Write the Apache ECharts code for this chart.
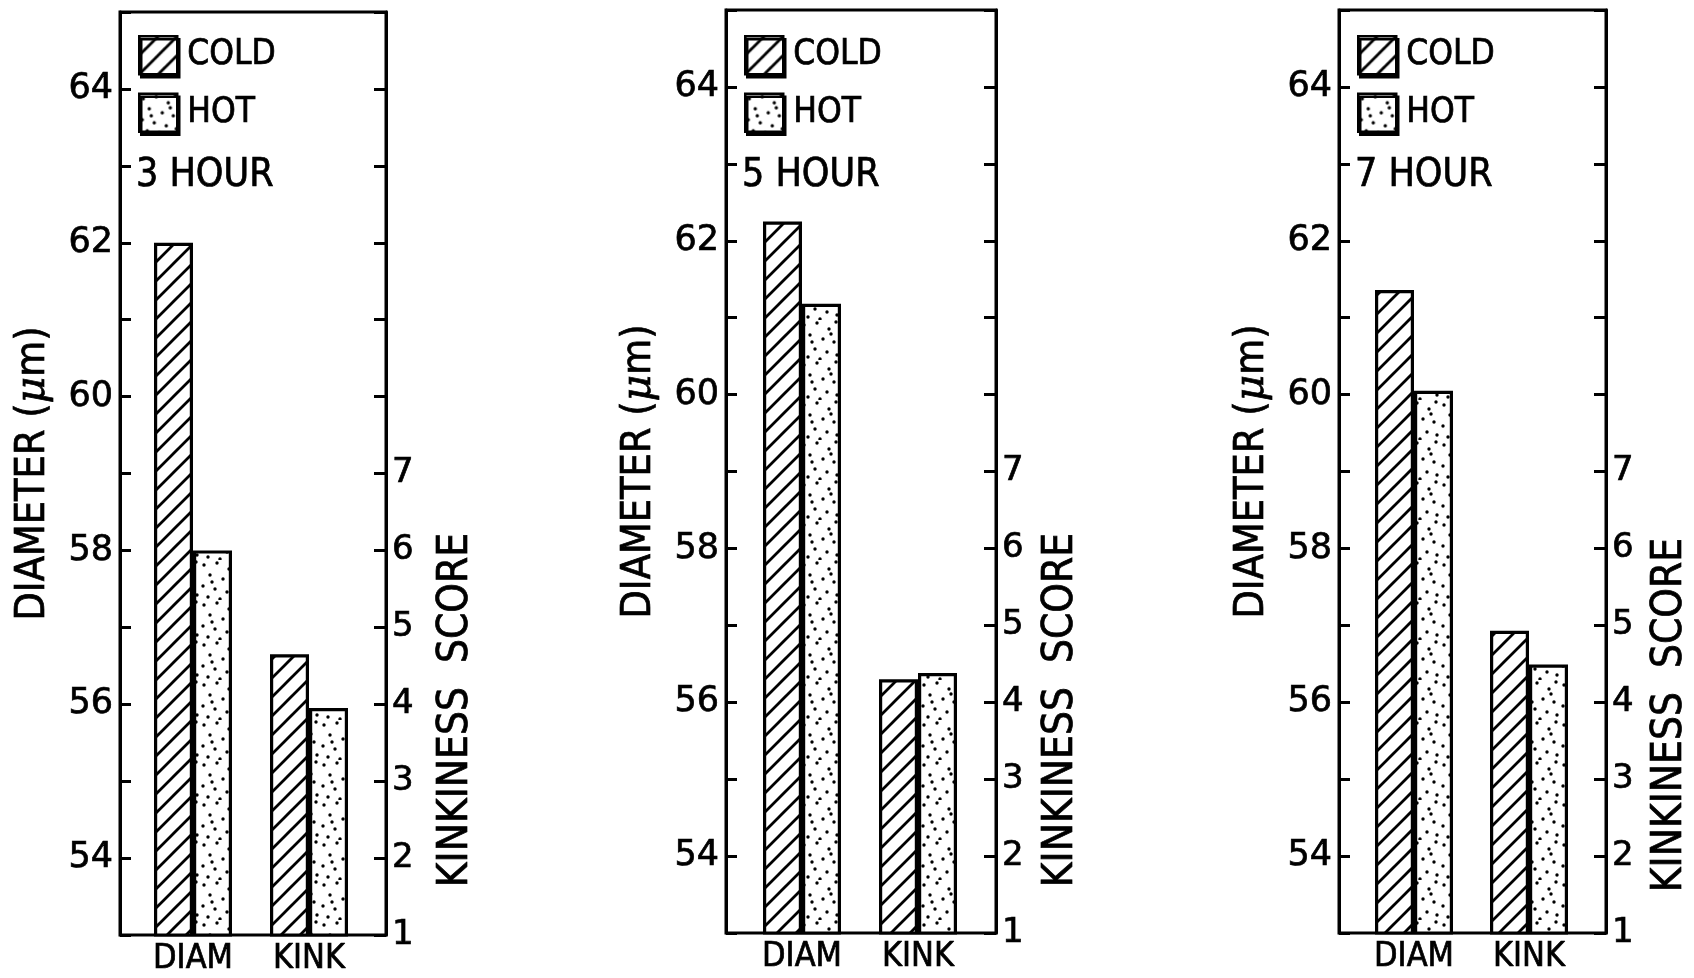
<!DOCTYPE html>
<html><head><meta charset="utf-8">
<script src="https://cdn.jsdelivr.net/npm/echarts@6/dist/echarts.min.js"></script>
<style>html,body{margin:0;padding:0;background:#fff}#c{width:1694px;height:978px}</style>
</head><body><div id="c"></div>
<script>
// ---- data ----
const panelTitles = ['3 HOUR', '5 HOUR', '7 HOUR'];
const categories = ['DIAM', 'KINK'];
const seriesNames = ['COLD', 'HOT'];
const coldDiameter = [62.0, 62.25, 61.36];
const hotDiameter = [58.0, 61.18, 60.05];
const coldKinkiness = [4.65, 4.30, 4.93];
const hotKinkiness = [3.95, 4.38, 4.49];
const diameterTicks = [54, 56, 58, 60, 62, 64];
const kinkinessTicks = [1, 2, 3, 4, 5, 6, 7];
const diameterRange = [53, 65];
const kinkinessRange = [1, 13];
const leftAxisName = ['DIAMETER (', 'μ', 'm)'];
const rightAxisName = 'KINKINESS  SCORE';

// ---- layout ----
const FONT = "'DejaVu Sans Condensed', 'Liberation Sans Narrow', 'Liberation Sans'";
const NUMFONT = "'DejaVu Sans', 'Liberation Sans'";
const boxLeft = [120, 726, 1339];
const boxWidth = [266, 270, 267];
const boxTop = [12, 10, 10];
const boxHeight = 923;
const diamCenter = [193, 802, 1414];
const kinkCenter = [309, 918, 1529];
const slotWidth = 116;
const ink = { color: '#000', textBorderColor: '#000', textBorderWidth: 0.7 };

function hatchPattern() {
  const s = 19, c = document.createElement('canvas');
  c.width = c.height = s;
  const g = c.getContext('2d');
  g.fillStyle = '#fff'; g.fillRect(0, 0, s, s);
  g.strokeStyle = '#000'; g.lineWidth = 2.8;
  g.beginPath();
  g.moveTo(-2, s + 2); g.lineTo(s + 2, -2);
  g.moveTo(-s / 2, s / 2); g.lineTo(s / 2, -s / 2);
  g.moveTo(s / 2, s * 1.5); g.lineTo(s * 1.5, s / 2);
  g.stroke();
  return c;
}
function dotPattern() {
  const s = 40, c = document.createElement('canvas');
  c.width = c.height = s;
  const g = c.getContext('2d');
  g.fillStyle = '#fff'; g.fillRect(0, 0, s, s);
  g.fillStyle = '#000';
  const pts = [[4,5],[17,3],[29,9],[36,2],[10,15],[23,19],[34,22],[3,26],[15,29],[27,32],[37,35],[8,37],[20,39],[31,14],[12,22]];
  pts.forEach(p => { g.beginPath(); g.arc(p[0], p[1], 1.7, 0, Math.PI * 2); g.fill(); });
  return c;
}
const coldColor = { image: hatchPattern(), repeat: 'repeat' };
const hotColor = { image: dotPattern(), repeat: 'repeat' };

const grid = [], xAxis = [], yAxis = [], series = [], title = [], legend = [], graphic = [];

for (let p = 0; p < 3; p++) {
  const gi = grid.length;
  grid.push({ left: boxLeft[p], width: boxWidth[p], top: boxTop[p], height: boxHeight,
    show: true, borderColor: '#000', borderWidth: 3, backgroundColor: 'transparent' });
  grid.push({ left: diamCenter[p] - slotWidth / 2, width: slotWidth, top: boxTop[p], height: boxHeight });
  grid.push({ left: kinkCenter[p] - slotWidth / 2, width: slotWidth, top: boxTop[p], height: boxHeight });

  const xi = xAxis.length;
  xAxis.push({ type: 'value', gridIndex: gi, min: 0, max: 1, axisLine: { show: false },
    axisTick: { show: false }, axisLabel: { show: false }, splitLine: { show: false } });
  [0, 1].forEach(k => xAxis.push({ type: 'category', gridIndex: gi + 1 + k, data: [categories[k]],
    axisLine: { show: false }, axisTick: { show: false },
    axisLabel: Object.assign({ fontFamily: FONT, fontSize: 34, margin: 7 }, ink) }));

  const yi = yAxis.length;
  const nameStyle = Object.assign({ fontFamily: FONT, fontSize: 41 }, ink);
  yAxis.push({ type: 'value', gridIndex: gi, position: 'left', min: diameterRange[0], max: diameterRange[1], interval: 1,
    name: '{n|' + leftAxisName[0] + '}{m|' + leftAxisName[1] + '}{n|' + leftAxisName[2] + '}',
    nameLocation: 'middle', nameGap: 66,
    nameTextStyle: { rich: { n: nameStyle, m: Object.assign({}, nameStyle, { fontStyle: 'italic', fontFamily: "'DejaVu Serif', serif" }) } },
    axisLine: { show: true, lineStyle: { color: '#000', width: 3 } },
    axisTick: { show: true, inside: true, length: 11, lineStyle: { color: '#000', width: 3 } },
    axisLabel: Object.assign({ fontFamily: NUMFONT, fontSize: 35, margin: 7,
      formatter: v => diameterTicks.includes(v) ? String(v) : '' }, ink),
    splitLine: { show: false } });
  yAxis.push({ type: 'value', gridIndex: gi, position: 'right', min: kinkinessRange[0], max: kinkinessRange[1], interval: 1,
    axisLine: { show: true, lineStyle: { color: '#000', width: 3 } },
    axisTick: { show: true, inside: true, length: 12, lineStyle: { color: '#000', width: 3 } },
    axisLabel: Object.assign({ fontFamily: NUMFONT, fontSize: 34, margin: 6,
      formatter: v => kinkinessTicks.includes(v) ? String(v) : '' }, ink),
    splitLine: { show: false } });
  yAxis.push({ type: 'value', gridIndex: gi + 1, min: diameterRange[0], max: diameterRange[1], show: false, splitLine: { show: false } });
  yAxis.push({ type: 'value', gridIndex: gi + 2, min: kinkinessRange[0], max: kinkinessRange[1], show: false, splitLine: { show: false } });

  const barBase = { type: 'bar', barWidth: 39, barGap: '0%', animation: false };
  const style = c => ({ color: c, borderColor: '#000', borderWidth: 3.2 });
  series.push(Object.assign({}, barBase, { name: seriesNames[0], xAxisIndex: xi + 1, yAxisIndex: yi + 2, data: [coldDiameter[p]], itemStyle: style(coldColor) }));
  series.push(Object.assign({}, barBase, { name: seriesNames[1], xAxisIndex: xi + 1, yAxisIndex: yi + 2, data: [hotDiameter[p]], itemStyle: style(hotColor) }));
  series.push(Object.assign({}, barBase, { name: seriesNames[0], xAxisIndex: xi + 2, yAxisIndex: yi + 3, data: [coldKinkiness[p]], itemStyle: style(coldColor) }));
  series.push(Object.assign({}, barBase, { name: seriesNames[1], xAxisIndex: xi + 2, yAxisIndex: yi + 3, data: [hotKinkiness[p]], itemStyle: style(hotColor) }));

  title.push({ text: panelTitles[p], left: boxLeft[p] + 16, top: 156, padding: 0,
    textStyle: Object.assign({ fontFamily: FONT, fontSize: 39, fontWeight: 'normal' }, ink) });
  legend.push({ data: seriesNames, orient: 'vertical', left: boxLeft[p] + 18, top: 35, padding: 0,
    itemWidth: 38, itemHeight: 38, itemGap: 17, icon: 'rect', selectedMode: false,
    itemStyle: { borderColor: '#000', borderWidth: 2.5, shadowColor: '#000', shadowOffsetX: 2, shadowOffsetY: 3, shadowBlur: 0 },
    textStyle: Object.assign({ fontFamily: FONT, fontSize: 35, padding: [3, 0, 0, 5] }, ink) });
}

const rightNamePos = [[456, 710], [1061, 710], [1670, 715]];
rightNamePos.forEach(pos => graphic.push({ type: 'text', x: pos[0], y: pos[1], rotation: Math.PI / 2,
  style: { text: rightAxisName, fontFamily: FONT, fontSize: 42, fill: '#000', stroke: '#000', lineWidth: 0.7,
    align: 'center', verticalAlign: 'middle' } }));

const chart = echarts.init(document.getElementById('c'), null, { renderer: 'canvas' });
chart.setOption({ backgroundColor: '#fff', animation: false, grid, xAxis, yAxis, series, title, legend, graphic });
</script></body></html>
